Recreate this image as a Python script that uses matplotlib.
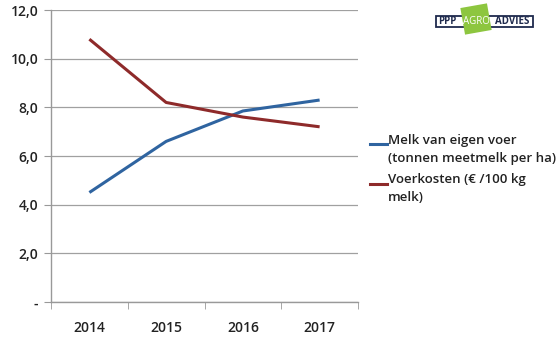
import matplotlib
matplotlib.use("Agg")
import matplotlib.pyplot as plt
from matplotlib.patches import Rectangle, Polygon
from matplotlib.lines import Line2D
import numpy as np

years = ["2014", "2015", "2016", "2017"]
melk_eigen_voer = [4.5, 6.6, 7.85, 8.3]
voerkosten = [10.8, 8.2, 7.6, 7.2]
yticks = [0, 2, 4, 6, 8, 10, 12]
ytick_labels = ["-", "2,0", "4,0", "6,0", "8,0", "10,0", "12,0"]
legend_labels = ["Melk van eigen voer\n(tonnen meetmelk per ha)",
                 "Voerkosten (€ /100 kg\nmelk)"]
colors = ['#2F64A0', '#8E2A2A']

plt.rcParams['font.family'] = ['Open Sans', 'DejaVu Sans']

W, H = 557, 356
fig = plt.figure(figsize=(W / 100, H / 100), dpi=100)
ax = fig.add_axes([51 / W, 1 - 302 / H, (358 - 51) / W, (302 - 10) / H])

x = list(range(len(years)))
ax.plot(x, melk_eigen_voer, color=colors[0], lw=2.2, solid_capstyle='butt')
ax.plot(x, voerkosten, color=colors[1], lw=2.2, solid_capstyle='butt')

ax.set_xlim(-0.5, len(years) - 0.5)
ax.set_ylim(0, 12)
ax.set_yticks(yticks)
ax.set_yticklabels(ytick_labels, fontsize=10, fontweight='semibold', color='#222222')
ax.set_xticks(x)
ax.set_xticklabels(years, fontsize=10, fontweight='semibold', color='#222222')
ax.set_xticks([i - 0.5 for i in range(len(years) + 1)], minor=True)
ax.tick_params(axis='x', which='major', length=0, pad=14)
ax.tick_params(axis='x', which='minor', length=5, color='#999999', direction='out')
ax.tick_params(axis='y', length=5, color='#999999', direction='out', pad=4)
ax.grid(axis='y', color='#a0a0a0', lw=0.9)
ax.set_axisbelow(True)
for s in ['top', 'right']:
    ax.spines[s].set_visible(False)
for s in ['left', 'bottom']:
    ax.spines[s].set_color('#999999')
    ax.spines[s].set_linewidth(1.0)

# Legend (manual, handle aligned with first line of each label)
handle_y = [144, 184]
block_center = [149.5, 188.5]
for lab, c, hy, bc in zip(legend_labels, colors, handle_y, block_center):
    fig.add_artist(Line2D([370 / W, 387 / W], [1 - hy / H, 1 - hy / H],
                          transform=fig.transFigure, color=c, lw=2.2))
    fig.text(388 / W, 1 - bc / H, lab, fontsize=9.5, fontweight='semibold',
             color='#222222', ha='left', va='center', linespacing=1.45)

# Logo
fig.patches.append(Rectangle((436 / W, 1 - 27 / H), (533 - 436) / W, 11 / H,
                             transform=fig.transFigure, facecolor='white',
                             edgecolor='#1f2a4d', lw=1.3, zorder=5))
cx, cy, s, ang = 476, 19, 27, np.deg2rad(-10)
pts = []
for dx, dy in [(-1, -1), (1, -1), (1, 1), (-1, 1)]:
    px = cx + (dx * np.cos(ang) - dy * np.sin(ang)) * s / 2
    py = cy + (dx * np.sin(ang) + dy * np.cos(ang)) * s / 2
    pts.append((px / W, 1 - py / H))
fig.patches.append(Polygon(pts, closed=True, transform=fig.transFigure,
                           facecolor='#8dc63f', edgecolor='none', zorder=6))
fig.text(447 / W, 1 - 21.5 / H, "PPP", fontsize=7, fontweight='bold', color='#1f2a4d',
         ha='center', va='center', zorder=7)
fig.text(476 / W, 1 - 21.5 / H, "AGRO", fontsize=7, color='white',
         ha='center', va='center', zorder=7)
fig.text(512 / W, 1 - 21.5 / H, "ADVIES", fontsize=7, fontweight='bold', color='#1f2a4d',
         ha='center', va='center', zorder=7)

fig.savefig("out.png", dpi=100, facecolor='white')
